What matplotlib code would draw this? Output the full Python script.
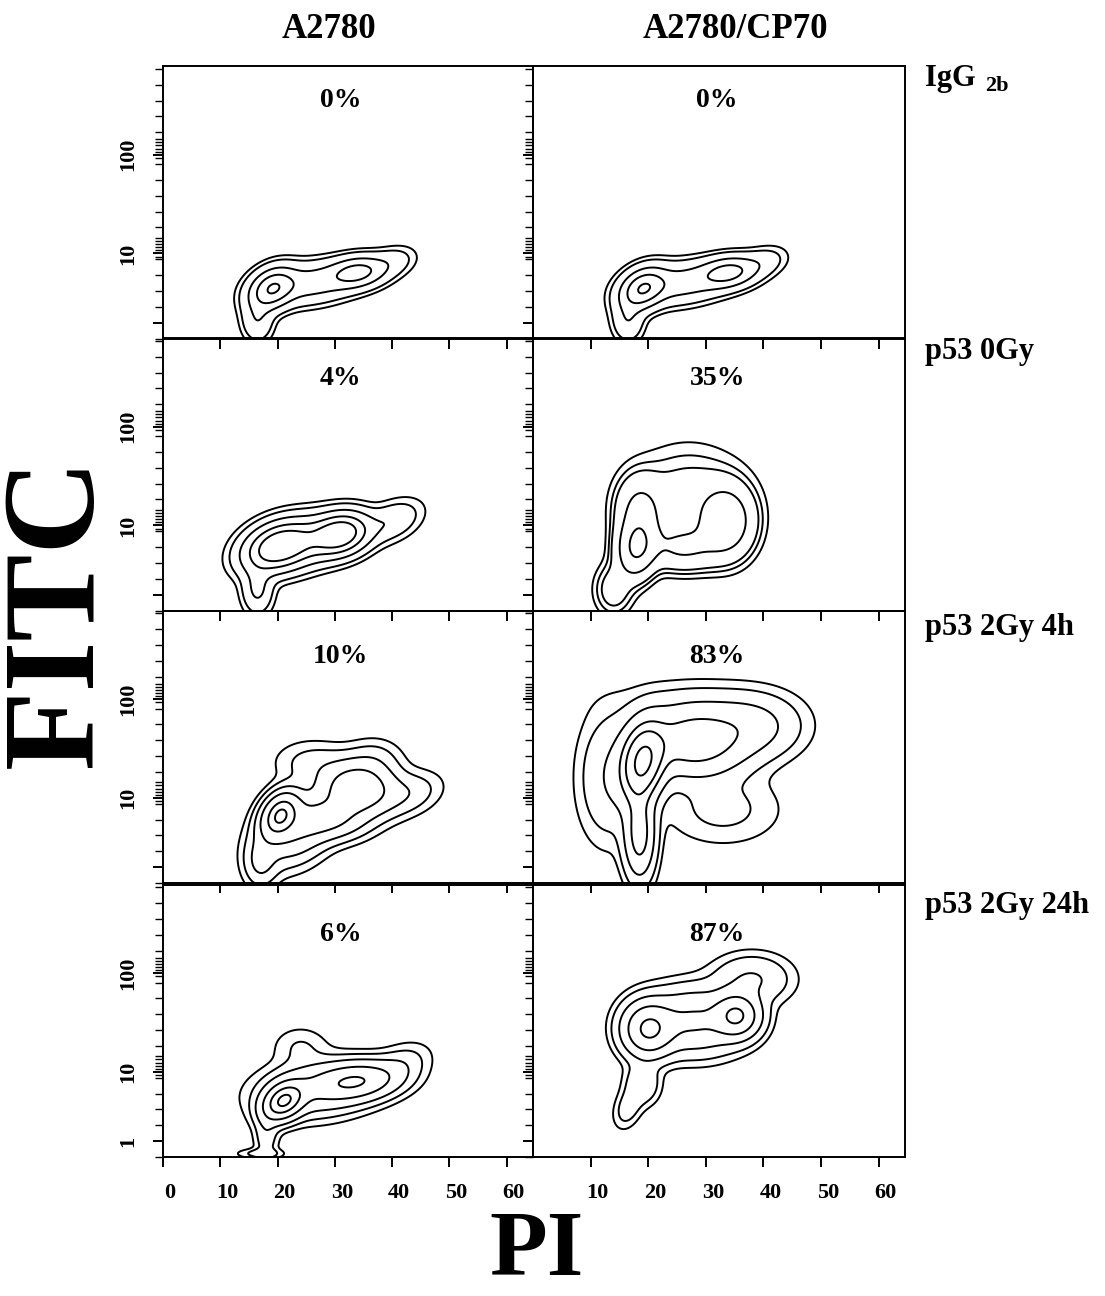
import numpy as np
import matplotlib.pyplot as plt
from matplotlib.transforms import ScaledTranslation

plt.rcParams['font.family'] = 'Liberation Serif'
plt.rcParams['font.weight'] = 'bold'

# FITC axis is a log channel scale with a small offset
OFFSET = 1.5

# cell populations per panel, one row per population:
# PI centre, FITC centre, PI spread, FITC spread (decades), tilt, weight
igg_control = np.array([
    [19.0, 3.75, 2.4, 0.12, 0.3, 1.00],
    [34.0, 6.1, 3.0, 0.09, 0.2, 0.75],
    [26.0, 4.5, 5.0, 0.12, 0.3, 0.45],
    [16.5, 1.1, 1.6, 0.12, 0.0, 0.25],
    [40.0, 8.0, 2.5, 0.09, 0.3, 0.15],
])
a2780_0gy = np.array([
    [20.0, 5.7, 3.5, 0.14, 0.3, 1.00],
    [31.0, 8.0, 3.0, 0.12, 0.2, 0.95],
    [25.5, 6.6, 4.0, 0.15, 0.3, 0.35],
    [16.5, 1.3, 1.6, 0.14, 0.0, 0.20],
    [40.0, 11.1, 3.0, 0.12, 0.4, 0.15],
])
a2780_4h = np.array([
    [20.4, 6.4, 2.0, 0.13, 0.3, 1.00],
    [34.0, 12.6, 4.0, 0.16, 0.0, 0.55],
    [23.0, 4.1, 4.0, 0.20, 0.3, 0.30],
    [29.0, 5.6, 4.0, 0.12, 0.0, 0.30],
    [17.0, 1.3, 1.8, 0.15, 0.0, 0.15],
    [43.0, 11.1, 3.5, 0.13, 0.3, 0.10],
    [26.0, 23.6, 4.0, 0.13, 0.0, 0.08],
    [37.0, 26.7, 3.0, 0.12, 0.0, 0.06],
])
a2780_24h = np.array([
    [21.0, 4.5, 2.2, 0.11, 0.3, 1.00],
    [34.0, 7.9, 4.5, 0.11, 0.2, 0.60],
    [27.0, 6.4, 6.0, 0.16, 0.2, 0.30],
    [18.0, 1.3, 1.3, 0.15, 0.0, 0.10],
    [24.0, 18.5, 3.0, 0.12, 0.0, 0.06],
    [42.0, 12.6, 3.0, 0.12, 0.3, 0.08],
    [17.0, 0.4, 2.5, 0.03, 0.0, 0.08],
])
cp70_0gy = np.array([
    [18.0, 5.6, 2.0, 0.17, 0.1, 1.00],
    [33.5, 11.1, 2.8, 0.20, 0.0, 0.75],
    [18.5, 14.3, 2.4, 0.20, 0.0, 0.45],
    [26.0, 5.6, 4.0, 0.13, 0.0, 0.40],
    [27.0, 18.5, 6.0, 0.30, 0.0, 0.20],
    [14.0, 1.3, 2.0, 0.15, 0.0, 0.20],
])
cp70_4h = np.array([
    [19.0, 23.6, 2.3, 0.22, 0.2, 1.00],
    [28.0, 38.3, 5.5, 0.20, 0.0, 0.50],
    [18.5, 3.7, 1.6, 0.25, 0.0, 0.45],
    [33.0, 7.4, 6.0, 0.20, 0.0, 0.06],
    [38.0, 54.7, 5.0, 0.18, 0.0, 0.18],
    [13.0, 16.3, 3.0, 0.35, 0.0, 0.12],
    [27.0, 87.6, 8.0, 0.15, 0.0, 0.04],
])
cp70_24h = np.array([
    [20.0, 28.0, 2.6, 0.15, 0.0, 1.00],
    [35.4, 38.3, 2.3, 0.12, 0.0, 0.95],
    [28.0, 34.0, 5.0, 0.18, 0.0, 0.50],
    [19.0, 7.4, 1.8, 0.12, 0.0, 0.15],
    [16.5, 3.75, 1.5, 0.12, 0.3, 0.10],
    [38.0, 87.6, 4.0, 0.14, 0.0, 0.18],
])

cell_lines = ['A2780', 'A2780/CP70']
treatments = ['IgG', 'p53 0Gy', 'p53 2Gy 4h', 'p53 2Gy 24h']
positive = [['0%', '0%'], ['4%', '35%'], ['10%', '83%'], ['6%', '87%']]
populations = [[igg_control, igg_control],
               [a2780_0gy, cp70_0gy],
               [a2780_4h, cp70_4h],
               [a2780_24h, cp70_24h]]

pi_ticks = [0, 10, 20, 30, 40, 50, 60]
fitc_ticks = [1, 10, 100]

# contour levels as fraction of the peak height
levels = [[[0.03, 0.07, 0.25, 0.55, 0.93]] * 2,
          [[0.02, 0.05, 0.15, 0.35, 0.6], [0.03, 0.06, 0.1, 0.33, 0.8]],
          [[0.02, 0.05, 0.12, 0.27, 0.6, 0.9], [0.015, 0.04, 0.12, 0.3, 0.5, 0.85]],
          [[0.02, 0.05, 0.12, 0.3, 0.6, 0.9], [0.02, 0.05, 0.15, 0.4, 0.85]]]
label_y = [0.875, 0.853, 0.832, 0.815]
label_x = [0.48, 0.495]


def fwd(y):
    return np.log10(np.maximum(y + OFFSET, 1e-6))


def inv(v):
    return 10 ** v - OFFSET


def density(pops, pi, dec):
    z = np.zeros_like(pi)
    for c_pi, c_fitc, s_pi, s_dec, rho, w in pops:
        dx = (pi - c_pi) / s_pi
        dy = (dec - np.log10(c_fitc + OFFSET)) / s_dec
        q = (dx * dx - 2 * rho * dx * dy + dy * dy) / (1 - rho * rho)
        z += w * np.exp(-0.5 * q)
    return z / z.max()


pi_grid = np.linspace(0, 64.6, 400)
dec_grid = np.linspace(0.2, 2.9, 400)
PI, DEC = np.meshgrid(pi_grid, dec_grid)
FITC = inv(DEC)

fig = plt.figure(figsize=(11.05, 12.96), dpi=100)
W, H = 1105.0, 1296.0
col_left = [163, 533]
col_width = [370, 372]
row_top = [66, 338, 610.5, 884.5]
row_height = 272.5

# regular ticks along the FITC axis plus a dense comb at 10 and 100
decs = np.log10(np.array(fitc_ticks) + OFFSET)
regular = np.arange(decs[0] - 0.152, 2.9, 0.152)
regular = [v for v in regular
           if not any(-0.05 < v - d < 0.2 for d in decs[1:])]
comb = np.concatenate([d + np.linspace(-0.03, 0.15, 7) for d in decs[1:]])

for r in range(4):
    for c in range(2):
        ax = fig.add_axes([col_left[c] / W, 1 - (row_top[r] + row_height) / H,
                           col_width[c] / W, row_height / H])
        ax.set_facecolor('none')
        ax.set_yscale('function', functions=(fwd, inv))
        z = density(populations[r][c], PI, DEC)
        ax.contour(PI, FITC, z, levels=levels[r][c], colors='black',
                   linewidths=1.4)
        ax.set_xlim(0, 64.6)
        ax.set_ylim(0.35, 718)

        for s in ax.spines.values():
            s.set_linewidth(1.4)

        ax.set_xticks(pi_ticks if c == 0 else pi_ticks[1:])
        ax.set_yticks(fitc_ticks)
        ax.set_yticks(inv(np.concatenate([regular, comb])), minor=True)
        ax.xaxis.set_minor_locator(plt.NullLocator())
        ax.tick_params(direction='out', length=7, width=1.4, labelsize=16,
                       top=False, right=False)
        ax.tick_params(axis='x', pad=12)
        ax.tick_params(axis='y', pad=11)
        ax.tick_params(which='minor', direction='out', length=6, width=1.0)

        if r == 3:
            for lab in ax.get_xticklabels():
                lab.set_transform(lab.get_transform() +
                                  ScaledTranslation(0.07, 0, fig.dpi_scale_trans))
        else:
            ax.set_xticklabels([])
        if c == 0:
            names = ['1', '10', '100'] if r == 3 else ['', '10', '100']
            ax.set_yticklabels(names, rotation=90, va='center')
        else:
            ax.set_yticklabels([])

        ax.text(label_x[c], label_y[r], positive[r][c], transform=ax.transAxes,
                ha='center', va='center', fontsize=20)

# column headers
fig.text(329 / W, 1 - 29 / H, cell_lines[0], ha='center', va='center', fontsize=25)
fig.text(735 / W, 1 - 29 / H, cell_lines[1], ha='center', va='center', fontsize=25)

# row headers
row_label_y = [78, 352, 627, 905]
fig.text(925 / W, 1 - (row_label_y[0] + 8) / H, treatments[0], ha='left',
         va='baseline', fontsize=22)
fig.text(985 / W, 1 - (row_label_y[0] + 13) / H, '2b', ha='left',
         va='baseline', fontsize=16)
for r in range(1, 4):
    fig.text(925 / W, 1 - row_label_y[r] / H, treatments[r], ha='left',
             va='center', fontsize=22)

# axis titles, anchored on their baselines
fig.text(92 / W, 1 - 612 / H, 'FITC', rotation=90, rotation_mode='anchor',
         ha='center', va='baseline', fontsize=94)
fig.text(537 / W, 1 - 1275 / H, 'PI', ha='center', va='baseline', fontsize=68)

fig.savefig('out.png', dpi=100)
